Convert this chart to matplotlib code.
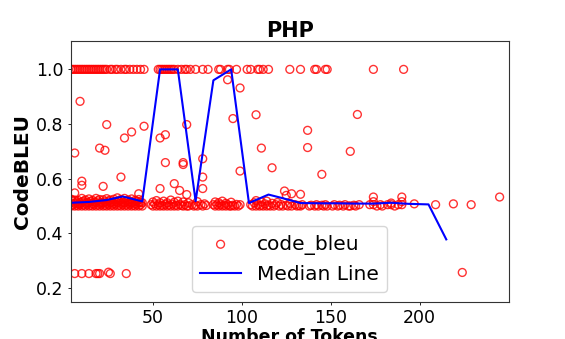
import matplotlib
matplotlib.use("Agg")
import matplotlib.pyplot as plt
import numpy as np

# ---- data ----
ones_x = [4, 5, 6, 7, 8, 9, 10, 11, 12, 13, 14, 15, 16, 17, 18, 19, 20, 21, 22, 23,
          24, 26, 27, 29, 30, 32, 34, 35, 37, 39, 41, 43, 45, 53, 54, 55, 56, 57, 58,
          59, 60, 61, 62, 64, 66, 68, 69, 71, 74, 78, 81, 87, 88, 92, 93, 97, 103,
          105, 109, 110, 112, 115, 127, 133, 141, 142, 147, 148, 174, 191]
ones_y = [1.0] * len(ones_x)

band_x1 = [4, 4, 4, 5, 5, 6, 6, 6, 7, 7,
           8, 8, 8, 9, 9, 10, 10, 10, 11, 11,
           12, 12, 12, 13, 13, 14, 14, 14, 15, 15,
           16, 16, 16, 17, 17, 18, 18, 18, 19, 19,
           20, 20, 20, 21, 21, 22, 22, 22, 23, 23,
           24, 24, 24, 25, 25, 26, 26, 26, 27, 27,
           28, 28, 28, 29, 29, 30, 30, 30, 31, 31,
           32, 32, 32, 33, 33, 34, 34, 34, 35, 35,
           36, 36, 36, 37, 37, 38, 38, 38, 39, 39,
           40, 40, 40, 41, 41, 42, 42, 42, 43, 43,
           44, 44]
band_y1 = [0.500, 0.512, 0.525, 0.505, 0.518, 0.500, 0.510, 0.522, 0.503, 0.515,
           0.500, 0.508, 0.520, 0.505, 0.512, 0.500, 0.515, 0.528, 0.504, 0.518,
           0.500, 0.510, 0.522, 0.506, 0.514, 0.500, 0.512, 0.526, 0.503, 0.517,
           0.500, 0.509, 0.521, 0.505, 0.515, 0.500, 0.513, 0.528, 0.504, 0.519,
           0.500, 0.510, 0.524, 0.506, 0.514, 0.500, 0.511, 0.523, 0.503, 0.516,
           0.500, 0.510, 0.527, 0.505, 0.518, 0.500, 0.512, 0.522, 0.504, 0.515,
           0.500, 0.509, 0.525, 0.506, 0.517, 0.500, 0.513, 0.530, 0.503, 0.519,
           0.500, 0.510, 0.524, 0.505, 0.514, 0.500, 0.512, 0.528, 0.504, 0.518,
           0.500, 0.510, 0.522, 0.506, 0.516, 0.500, 0.511, 0.526, 0.503, 0.515,
           0.500, 0.509, 0.521, 0.505, 0.517, 0.500, 0.513, 0.524, 0.504, 0.514,
           0.500, 0.512]

band_x2 = [49, 50, 50, 51, 52, 52, 53, 54, 54, 55,
           56, 56, 57, 58, 58, 59, 60, 60, 61, 62,
           62, 63, 64, 64, 65, 66, 67, 67, 68, 69,
           70, 70, 72, 73, 74, 75, 75, 77, 78, 79,
           80]
band_y2 = [0.505, 0.500, 0.515, 0.508, 0.500, 0.520, 0.505, 0.500, 0.512, 0.503,
           0.500, 0.518, 0.506, 0.500, 0.512, 0.504, 0.500, 0.522, 0.507, 0.500,
           0.514, 0.503, 0.500, 0.518, 0.506, 0.502, 0.500, 0.515, 0.505, 0.500,
           0.500, 0.512, 0.505, 0.500, 0.503, 0.500, 0.516, 0.505, 0.500, 0.508,
           0.502]

band_x3 = [84, 85, 85, 86, 87, 87, 88, 89, 89, 90,
           91, 91, 92, 93, 94, 94, 95, 96, 97, 98,
           99]
band_y3 = [0.505, 0.500, 0.515, 0.505, 0.500, 0.512, 0.505, 0.500, 0.518, 0.503,
           0.500, 0.510, 0.505, 0.500, 0.500, 0.514, 0.503, 0.500, 0.506, 0.500,
           0.505]

band_x4 = [105, 106, 107, 108, 108, 109, 110, 111, 111, 112,
           113, 114, 114, 115, 116, 117, 118, 119, 120, 121,
           122, 123, 125, 126, 127, 128, 130, 131, 132, 133,
           134]
band_y4 = [0.505, 0.500, 0.512, 0.500, 0.520, 0.505, 0.500, 0.503, 0.515, 0.500,
           0.508, 0.500, 0.518, 0.503, 0.500, 0.510, 0.500, 0.505, 0.513, 0.500,
           0.506, 0.500, 0.503, 0.500, 0.510, 0.500, 0.505, 0.500, 0.502, 0.500,
           0.505]

band_x5 = [138, 139, 141, 142, 143, 145, 146, 147, 148, 151,
           152, 154, 155, 157, 158, 160, 161, 163, 164, 166,
           172, 174, 174, 176, 178, 179, 182, 184, 184, 186,
           188, 190, 190, 197, 209, 219, 229]
band_y5 = [0.500, 0.503, 0.500, 0.505, 0.500, 0.503, 0.500, 0.505, 0.500, 0.500,
           0.505, 0.500, 0.503, 0.500, 0.505, 0.500, 0.500, 0.503, 0.500, 0.505,
           0.505, 0.505, 0.516, 0.500, 0.505, 0.500, 0.505, 0.505, 0.511, 0.500,
           0.505, 0.505, 0.516, 0.508, 0.505, 0.508, 0.505]

mid_x = [6, 9, 6, 10, 10, 20, 22, 23, 24, 32,
         34, 38, 42, 45, 54, 54, 57, 57, 62, 65,
         67, 67, 69, 69, 78, 78, 78, 92, 95, 99,
         99, 108, 111, 117, 124, 125, 128, 133, 137, 137,
         145, 161, 165, 174, 190, 245]
mid_y = [0.694, 0.883, 0.548, 0.591, 0.576, 0.712, 0.572, 0.704, 0.798, 0.606,
         0.749, 0.771, 0.545, 0.792, 0.749, 0.564, 0.761, 0.659, 0.582, 0.557,
         0.659, 0.652, 0.798, 0.542, 0.673, 0.606, 0.564, 0.962, 0.820, 0.932,
         0.628, 0.834, 0.712, 0.640, 0.555, 0.539, 0.545, 0.543, 0.777, 0.714,
         0.616, 0.700, 0.835, 0.533, 0.533, 0.533]

low_x = [6, 10, 14, 18, 19, 20, 25, 26, 35, 224]
low_y = [0.253, 0.253, 0.253, 0.253, 0.253, 0.253, 0.258, 0.253, 0.253, 0.257]

median_x = [4, 14, 24, 33, 44, 54, 64, 74, 84, 94, 104, 115, 124, 133,
            144, 154, 164, 174, 184, 194, 205, 215]
median_y = [0.512, 0.515, 0.522, 0.535, 0.517, 1.0, 1.0, 0.518, 0.96, 1.0,
            0.511, 0.542, 0.527, 0.511, 0.510, 0.510, 0.509, 0.509, 0.512,
            0.508, 0.506, 0.378]

title = "PHP"
xlabel = "Number of Tokens"
ylabel = "CodeBLEU"

# ---- plot ----
all_x = ones_x + band_x1 + band_x2 + band_x3 + band_x4 + band_x5 + mid_x + low_x
all_y = ones_y + band_y1 + band_y2 + band_y3 + band_y4 + band_y5 + mid_y + low_y

fig, ax = plt.subplots(figsize=(5.65, 3.39), dpi=100)
ax.scatter(all_x, all_y, s=32, facecolors='none', edgecolors='red',
           linewidths=1.0, alpha=0.8, label='code_bleu')
ax.plot(median_x, median_y, color='blue', linewidth=1.5, label='Median Line')

ax.set_xlim(3.7, 250)
ax.set_ylim(0.15, 1.105)
ax.set_xticks([50, 100, 150, 200])
ax.set_yticks([0.2, 0.4, 0.6, 0.8, 1.0])
ax.tick_params(labelsize=12.5, length=2.5, width=0.6, pad=2.5)
for sp in ax.spines.values():
    sp.set_color('#333333')
ax.set_title(title, fontsize=15, fontweight='bold', pad=2.5)
ax.set_xlabel(xlabel, fontsize=12.5, fontweight='bold', labelpad=1)
ax.set_ylabel(ylabel, fontsize=14.5, fontweight='bold', labelpad=3)
ax.legend(loc='lower center', fontsize=14.5)

fig.savefig("out.png", dpi=100)
